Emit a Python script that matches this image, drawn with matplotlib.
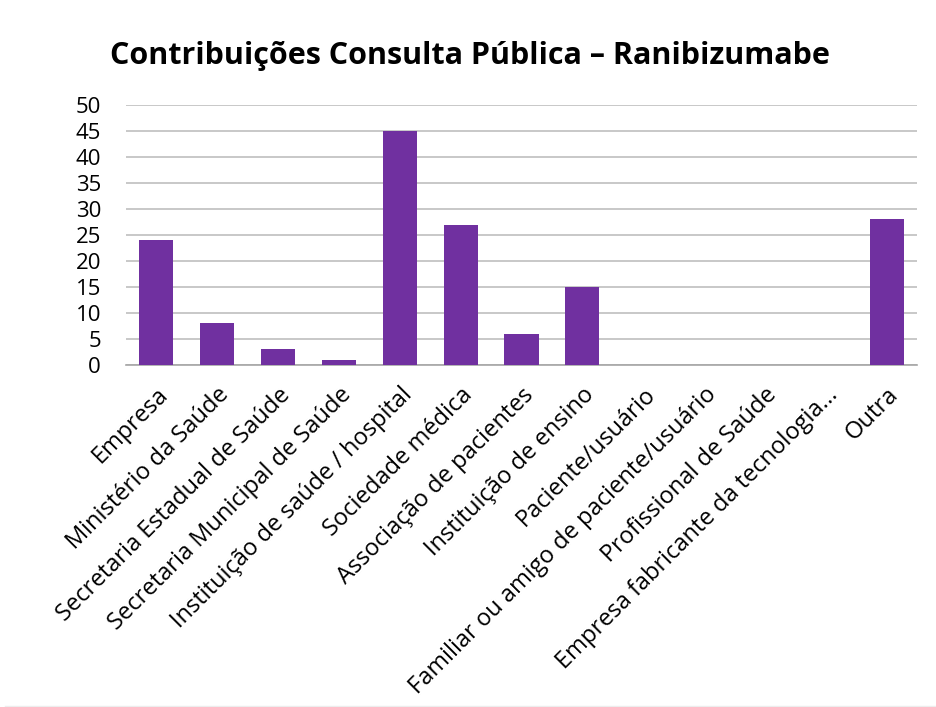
import matplotlib
matplotlib.use('Agg')
import numpy as np
from matplotlib import pyplot as plt
from matplotlib.lines import Line2D

plt.rcParams['font.family'] = ['Open Sans', 'DejaVu Sans']

categorias = ['Empresa', 'Ministério da Saúde', 'Secretaria Estadual de Saúde',
              'Secretaria Municipal de Saúde', 'Instituição de saúde / hospital',
              'Sociedade médica', 'Associação de pacientes', 'Instituição de ensino',
              'Paciente/usuário', 'Familiar ou amigo de paciente/usuário',
              'Profissional de Saúde', 'Empresa fabricante da tecnologia...', 'Outra']
contribuicoes = [24, 8, 3, 1, 45, 27, 6, 15, 0, 0, 0, 0, 28]
y_ticks = [0, 5, 10, 15, 20, 25, 30, 35, 40, 45, 50]

fig = plt.figure(figsize=(9.36, 7.07), dpi=100)
ax = fig.add_axes([126/936, 1 - 365/707, (917-126)/936, (365-105)/707])

x = np.arange(len(categorias))
ax.bar(x, contribuicoes, width=0.56, color='#7030A0', zorder=3)

ax.set_xlim(-0.5, len(categorias) - 0.5)
ax.set_ylim(0, 50)
ax.set_yticks(y_ticks)
ax.tick_params(axis='y', length=0, labelsize=16, pad=18)
ax.tick_params(axis='x', length=0, labelsize=17, pad=13)
ax.set_xticks(x)
ax.set_xticklabels(categorias, rotation=45, ha='right', rotation_mode='anchor')
ax.grid(axis='y', color='#BFBFBF', linewidth=1.2, zorder=0)
for s in ['top', 'right', 'left']:
    ax.spines[s].set_visible(False)
ax.spines['bottom'].set_color('#A6A6A6')
ax.spines['bottom'].set_linewidth(1.2)

fig.text(470/936, 1 - 56/707, 'Contribuições Consulta Pública – Ranibizumabe',
         ha='center', va='center', fontsize=22, fontweight='bold')

# linha fina no rodapé
fig.add_artist(Line2D([5/936, 1], [1.5/707, 1.5/707], transform=fig.transFigure,
                      color='#EDEDED', linewidth=1))

plt.savefig('out.png', dpi=100, facecolor='white')
